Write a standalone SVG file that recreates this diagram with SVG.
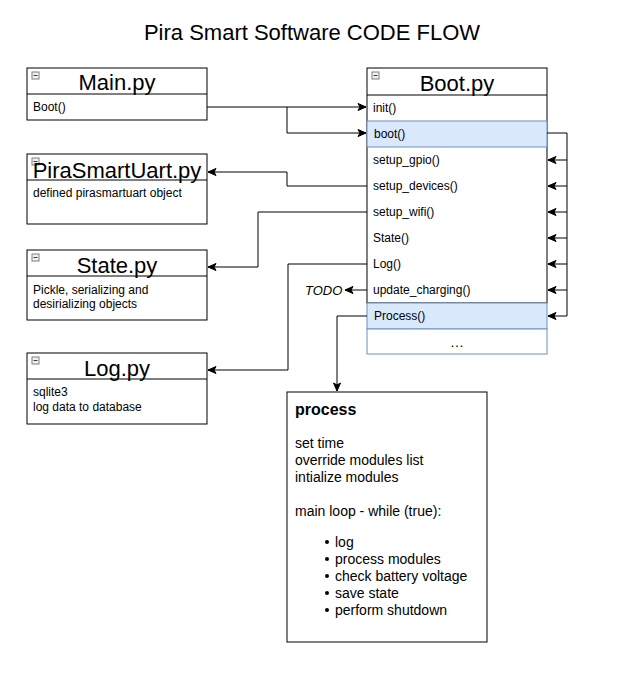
<svg xmlns="http://www.w3.org/2000/svg" width="622" height="682" viewBox="0 0 622 682">
<style>
text{font-family:"Liberation Sans",Arial,sans-serif;fill:#000}
.box{fill:#fff;stroke:#000;stroke-width:1}
.hl{fill:#dae8fc;stroke:#6c8ebf;stroke-width:1}
.bl{fill:#fff;stroke:#6c8ebf;stroke-width:1}
.hd{font-size:22px;text-anchor:middle}
.row{font-size:12px}
.desc{font-size:12px}
.icon{fill:#f2f2f2;stroke:#7f7f7f;stroke-width:1}
.minus{stroke:#404040;stroke-width:1}
.edge{fill:none;stroke:#000;stroke-width:1}
.pt{font-size:14px}
</style>
<defs>
<marker id="arr" markerWidth="10" markerHeight="10" refX="9" refY="5" orient="auto" markerUnits="userSpaceOnUse">
<path d="M1,1.5 L9,5 L1,8.5 L3,5 Z" fill="#000" stroke="#000" stroke-width="1"/>
</marker>
<g id="ic"><rect class="icon" x="0" y="0" width="7" height="7"/><line class="minus" x1="1.5" y1="3.5" x2="5.5" y2="3.5"/></g>
</defs>
<rect width="622" height="682" fill="#fff"/>
<text x="312" y="40" font-size="22" text-anchor="middle">Pira Smart Software CODE FLOW</text>

<g id="main">
<rect class="box" x="27" y="68" width="180" height="52"/>
<line class="edge" x1="27" y1="94" x2="207" y2="94"/>
<use href="#ic" x="32" y="72"/>
<text class="hd" x="117" y="90">Main.py</text>
<text class="row" x="33" y="111">Boot()</text>
</g>

<g id="boot">
<rect class="box" x="367" y="68" width="180" height="235"/>
<line class="edge" x1="367" y1="95" x2="547" y2="95"/>
<use href="#ic" x="372" y="72"/>
<text class="hd" x="457" y="91">Boot.py</text>
<text class="row" x="373" y="112">init()</text>
<rect class="hl" x="367" y="121" width="180" height="26"/>
<text class="row" x="374" y="138">boot()</text>
<text class="row" x="373" y="164">setup_gpio()</text>
<text class="row" x="373" y="190">setup_devices()</text>
<text class="row" x="373" y="216">setup_wifi()</text>
<text class="row" x="373" y="242">State()</text>
<text class="row" x="373" y="268">Log()</text>
<text class="row" x="373" y="294">update_charging()</text>
<rect class="hl" x="367" y="303" width="180" height="26"/>
<text class="row" x="374" y="320">Process()</text>
<rect class="bl" x="367" y="329" width="180" height="25"/>
<text x="457" y="347" font-size="14" text-anchor="middle">…</text>
</g>

<g id="pirasmartuart">
<rect class="box" x="27" y="154" width="180" height="70"/>
<line class="edge" x1="27" y1="180" x2="207" y2="180"/>
<use href="#ic" x="32" y="158"/>
<text class="hd" x="117" y="178">PiraSmartUart.py</text>
<text class="desc" x="33" y="197">defined pirasmartuart object</text>
</g>

<g id="state">
<rect class="box" x="27" y="250" width="180" height="70"/>
<line class="edge" x1="27" y1="276" x2="207" y2="276"/>
<use href="#ic" x="32" y="254"/>
<text class="hd" x="117" y="273">State.py</text>
<text class="desc" x="33" y="294">Pickle, serializing and</text>
<text class="desc" x="33" y="308">desirializing objects</text>
</g>

<g id="log">
<rect class="box" x="27" y="353" width="180" height="71"/>
<line class="edge" x1="27" y1="379" x2="207" y2="379"/>
<use href="#ic" x="32" y="357"/>
<text class="hd" x="117" y="376">Log.py</text>
<text class="desc" x="33" y="396">sqlite3</text>
<text class="desc" x="33" y="411">log data to database</text>
</g>

<g id="todo">
<text x="305" y="295" font-size="13" font-style="italic">TODO</text>
</g>

<g id="process">
<rect class="box" x="287" y="392" width="200" height="250"/>
<text x="295" y="415" font-size="16" font-weight="bold">process</text>
<text class="pt" x="295" y="448">set time</text>
<text class="pt" x="295" y="465">override modules list</text>
<text class="pt" x="295" y="482">intialize modules</text>
<text class="pt" x="295" y="516">main loop - while (true):</text>
<g fill="#000">
<circle cx="327" cy="542" r="2"/><circle cx="327" cy="559" r="2"/><circle cx="327" cy="576" r="2"/><circle cx="327" cy="593" r="2"/><circle cx="327" cy="610" r="2"/>
</g>
<text class="pt" x="335" y="547">log</text>
<text class="pt" x="335" y="564">process modules</text>
<text class="pt" x="335" y="581">check battery voltage</text>
<text class="pt" x="335" y="598">save state</text>
<text class="pt" x="335" y="615">perform shutdown</text>
</g>

<g id="connectors">
<path class="edge" d="M207,107 L366,107" marker-end="url(#arr)"/>
<path class="edge" d="M287,107 L287,133 L366,133" marker-end="url(#arr)"/>
<path class="edge" d="M367,186 L287,186 L287,172 L208,172" marker-end="url(#arr)"/>
<path class="edge" d="M367,212 L258,212 L258,267 L208,267" marker-end="url(#arr)"/>
<path class="edge" d="M367,264 L288,264 L288,370 L208,370" marker-end="url(#arr)"/>
<path class="edge" d="M367,290 L345,290" marker-end="url(#arr)"/>
<path class="edge" d="M367,316 L337,316 L337,391" marker-end="url(#arr)"/>
<path class="edge" d="M547,133 L567,133 L567,316"/>
<path class="edge" d="M567,160 L548,160" marker-end="url(#arr)"/>
<path class="edge" d="M567,186 L548,186" marker-end="url(#arr)"/>
<path class="edge" d="M567,212 L548,212" marker-end="url(#arr)"/>
<path class="edge" d="M567,238 L548,238" marker-end="url(#arr)"/>
<path class="edge" d="M567,264 L548,264" marker-end="url(#arr)"/>
<path class="edge" d="M567,290 L548,290" marker-end="url(#arr)"/>
<path class="edge" d="M567,316 L548,316" marker-end="url(#arr)"/>
</g>
</svg>
